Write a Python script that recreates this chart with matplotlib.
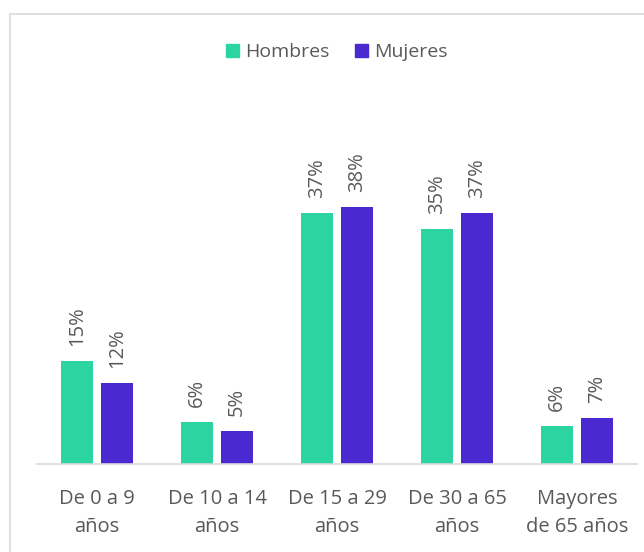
import matplotlib.pyplot as plt
import matplotlib.patches as mpatches
import numpy as np

plt.rcParams['font.family'] = ['Open Sans', 'DejaVu Sans']

categories = ["De 0 a 9\naños", "De 10 a 14\naños", "De 15 a 29\naños",
              "De 30 a 65\naños", "Mayores\nde 65 años"]
hombres = [15.2, 6.2, 37.0, 34.6, 5.6]
mujeres = [11.9, 4.9, 37.9, 37.0, 6.8]
series_names = ["Hombres", "Mujeres"]

green = '#2BD4A1'
purple = '#4A29D1'
text_col = '#595959'

fig = plt.figure(figsize=(6.44, 5.52), dpi=100)
W, H = 644, 552
ax = fig.add_axes([37 / W, (H - 464) / H, 600 / W, 364 / H])

x = np.arange(len(categories))
bw = 32 / 120
gap = 8 / 120
off = (bw + gap) / 2
b1 = ax.bar(x - off, hombres, bw, color=green, label=series_names[0])
b2 = ax.bar(x + off, mujeres, bw, color=purple, label=series_names[1])

for bars, vals in ((b1, hombres), (b2, mujeres)):
    for b, v in zip(bars, vals):
        ax.annotate(f"{v:.0f}%", (b.get_x() + b.get_width() / 2, b.get_height()),
                    xytext=(0, 11), textcoords='offset points', rotation=90,
                    ha='center', va='bottom', fontsize=14.5, color=text_col)

ax.set_xlim(-0.5, 4.5)
ax.set_ylim(0, 364 / 6.78)
ax.set_xticks(x)
ax.set_xticklabels(categories, fontsize=14.5, color=text_col, linespacing=1.5)
ax.tick_params(axis='x', length=0, pad=18)
ax.set_yticks([])
for s in ('top', 'right', 'left'):
    ax.spines[s].set_visible(False)
ax.spines['bottom'].set_color('#D9D9D9')
ax.spines['bottom'].set_linewidth(1.2)

handles = [mpatches.Patch(color=green, label=series_names[0]),
           mpatches.Patch(color=purple, label=series_names[1])]
fig.legend(handles=handles, loc='center', bbox_to_anchor=(337 / W, 1 - 52 / H),
           ncol=2, frameon=False, fontsize=14, handlelength=0.65, handleheight=0.65,
           handletextpad=0.35, columnspacing=1.3, labelcolor=text_col)

# outer chart border
fig.add_artist(mpatches.Rectangle((10 / W, -0.1), 1.2, 1 - 14 / H + 0.1,
                                  transform=fig.transFigure, fill=False,
                                  edgecolor='#D9D9D9', linewidth=1.2))

fig.savefig('out.png', dpi=100)
